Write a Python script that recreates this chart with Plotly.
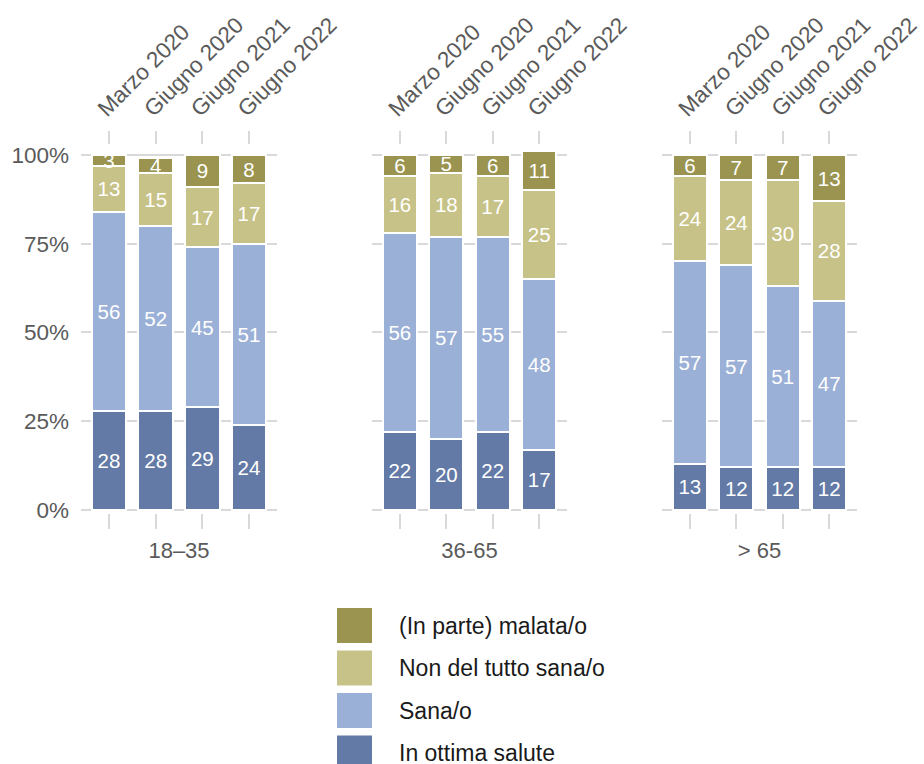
import plotly.graph_objects as go

W, H = 924, 764

periods = ["Marzo 2020", "Giugno 2020", "Giugno 2021", "Giugno 2022"]
groups = ["18–35", "36-65", "> 65"]

series_names = ["In ottima salute", "Sana/o", "Non del tutto sana/o", "(In parte) malata/o"]
series_colors = ["#637aa6", "#9bb0d6", "#c7c287", "#9a9450"]

ottima = [[28, 28, 29, 24], [22, 20, 22, 17], [13, 12, 12, 12]]
sana = [[56, 52, 45, 51], [56, 57, 55, 48], [57, 57, 51, 47]]
non_del_tutto = [[13, 15, 17, 17], [16, 18, 17, 25], [24, 24, 30, 28]]
malata = [[3, 4, 9, 8], [6, 5, 6, 11], [6, 7, 7, 13]]
series_values = [ottima, sana, non_del_tutto, malata]

y_ticks = [0, 25, 50, 75, 100]
y_ticktext = ["0%", "25%", "50%", "75%", "100%"]

FONT = "Liberation Sans, Arial, Helvetica, sans-serif"
GRAY = "#5a5a5a"
GRID = "#d9d9d9"

panel_px = [(81, 277), (372, 567), (662, 857)]
y_bottom_px, y_top_px = 512.8, 145.0

def px_x(p):
    return p / W

def px_y(p):
    return 1 - p / H

fig = go.Figure()

for gi in range(3):
    sfx = "" if gi == 0 else str(gi + 1)
    for si, name in enumerate(series_names):
        vals = series_values[si][gi]
        fig.add_trace(go.Bar(
            x=periods, y=vals, name=name,
            xaxis="x" + sfx, yaxis="y" + sfx,
            marker=dict(color=series_colors[si], line=dict(color="white", width=2)),
            width=0.74,
            text=[str(v) for v in vals],
            textposition="inside", insidetextanchor="middle",
            constraintext="none", textangle=0,
            textfont=dict(color="white", size=20.5, family=FONT),
            showlegend=False, hoverinfo="x+y+name",
        ))
    fig.add_trace(go.Scatter(
        x=periods, y=[0] * 4, xaxis="x" + str(gi + 4), yaxis="y" + sfx,
        mode="markers", marker=dict(opacity=0), showlegend=False, hoverinfo="skip",
    ))

layout = dict(
    width=W, height=H, autosize=False,
    margin=dict(l=0, r=0, t=0, b=0, autoexpand=False),
    paper_bgcolor="white", plot_bgcolor="white",
    barmode="stack",
    font=dict(family=FONT, color=GRAY, size=22),
    showlegend=False,
)

for gi in range(3):
    sfx = "" if gi == 0 else str(gi + 1)
    x0, x1 = panel_px[gi]
    dom = [px_x(x0), px_x(x1)]
    layout["xaxis" + sfx] = dict(
        domain=dom, type="category", categoryorder="array", categoryarray=periods,
        range=[-0.6, 3.6], anchor="y" + sfx, side="bottom", automargin=False,
        showticklabels=False, ticks="outside", ticklen=15, tickwidth=1.5, tickcolor=GRID,
        showgrid=False, showline=False, zeroline=False,
        title=dict(text=groups[gi], font=dict(size=22, color=GRAY, family=FONT), standoff=14),
    )
    layout["xaxis" + str(gi + 4)] = dict(
        domain=dom, type="category", categoryorder="array", categoryarray=periods,
        range=[-0.6, 3.6], anchor="y" + sfx, overlaying="x" + sfx, side="top",
        automargin=False,
        showticklabels=True, tickangle=-45, ticks="outside", ticklen=13, tickwidth=1.5,
        ticklabelshift=-10, ticklabelstandoff=1,
        tickcolor=GRID, tickfont=dict(size=22.5, color=GRAY, family=FONT),
        showgrid=False, showline=False, zeroline=False,
    )
    layout["yaxis" + sfx] = dict(
        domain=[px_y(y_bottom_px), px_y(y_top_px)], range=[-0.8, 102.8],
        anchor="x" + sfx, tickvals=y_ticks, ticktext=y_ticktext, automargin=False,
        showticklabels=(gi == 0), ticks="", ticklabelstandoff=11,
        tickfont=dict(size=22.5, color=GRAY, family=FONT),
        showgrid=True, gridcolor=GRID, gridwidth=1.5, zeroline=False, showline=False,
    )

fig.update_layout(**layout)

leg_x0, leg_size, leg_y0, leg_step = 337, 35, 608, 42.5
for k, si in enumerate(reversed(range(len(series_names)))):
    top = leg_y0 + k * leg_step
    fig.add_shape(type="rect", xref="paper", yref="paper",
                  x0=px_x(leg_x0), x1=px_x(leg_x0 + leg_size),
                  y0=px_y(top + leg_size), y1=px_y(top),
                  fillcolor=series_colors[si], line=dict(width=0))
    fig.add_annotation(xref="paper", yref="paper", x=px_x(397), y=px_y(top + leg_size / 2),
                       text=series_names[si], showarrow=False, xanchor="left", yanchor="middle",
                       font=dict(size=23, color="#1a1a1a", family=FONT))

fig.write_html(
    "out.html",
    config={"displayModeBar": False},
    post_script="document.body.style.margin='0';document.body.style.overflow='hidden';",
)
